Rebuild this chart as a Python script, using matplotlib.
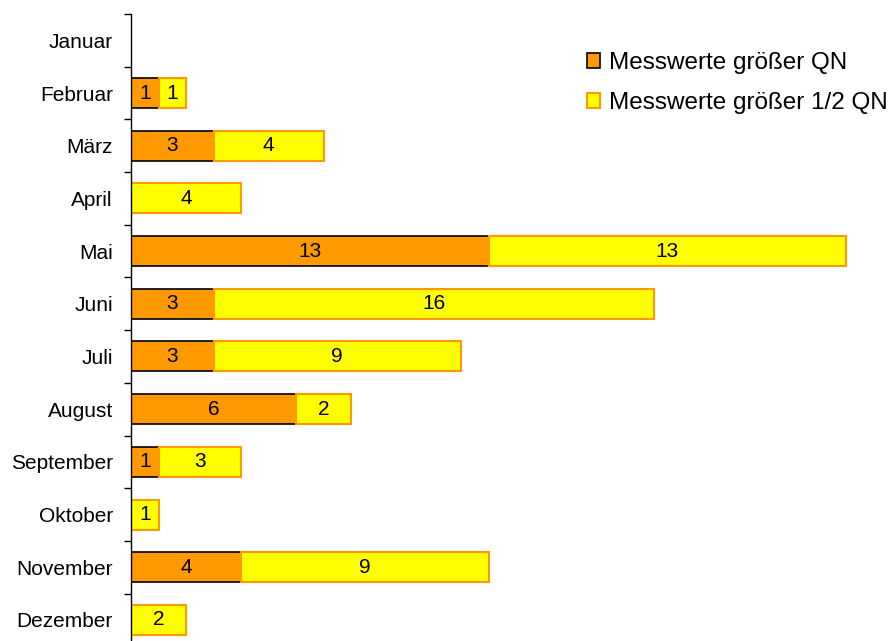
import matplotlib.pyplot as plt
from matplotlib.patches import Patch
import numpy as np

plt.rcParams['font.family'] = ['Liberation Sans', 'DejaVu Sans']

months = ["Januar", "Februar", "März", "April", "Mai", "Juni", "Juli",
          "August", "September", "Oktober", "November", "Dezember"]
above_qn = [0, 1, 3, 0, 13, 3, 3, 6, 1, 0, 4, 0]
above_half_qn = [0, 1, 4, 4, 13, 16, 9, 2, 3, 1, 9, 2]

ORANGE = "#FF9900"
YELLOW = "#FFFF00"

fig = plt.figure(figsize=(8.92, 6.41), dpi=100)
ax = fig.add_axes([131 / 892, 0, 1 - 131 / 892, 1 - 14 / 641])

y = np.arange(len(months))
a = np.array(above_qn)
b = np.array(above_half_qn)
h = 0.57

for i in y:
    if a[i] > 0:
        ax.barh(i, a[i], height=h, color=ORANGE, edgecolor="black", linewidth=1.2)
        ax.text(a[i] / 2, i, str(a[i]), ha="center", va="center", fontsize=15)
    if b[i] > 0:
        ax.barh(i, b[i], left=a[i], height=h, color=YELLOW, edgecolor=ORANGE, linewidth=1.5)
        ax.text(a[i] + b[i] / 2, i, str(b[i]), ha="center", va="center", fontsize=15)

ax.set_xlim(0, (892 - 131) / 27.5)
ax.set_ylim(11.4, -0.5)

ax.set_yticks(y)
ax.set_yticklabels(months, fontsize=15)
ax.tick_params(axis="y", which="major", length=0, pad=13)
ax.set_yticks(np.arange(-0.5, 11.5, 1.0), minor=True)
ax.tick_params(axis="y", which="minor", length=5, width=1, direction="out")
ax.set_xticks([])
for side in ["top", "right", "bottom"]:
    ax.spines[side].set_visible(False)
ax.spines["left"].set_linewidth(1)

handles = [Patch(facecolor=ORANGE, edgecolor="black", linewidth=1.2),
           Patch(facecolor=YELLOW, edgecolor=ORANGE, linewidth=1.5)]
fig.legend(handles, ["Messwerte größer QN", "Messwerte größer 1/2 QN"],
           loc="upper left", bbox_to_anchor=(587 / 892, 1 - 52 / 641),
           frameon=False, fontsize=17.5, handlelength=0.55, handleheight=0.55,
           handletextpad=0.35, labelspacing=0.75, borderpad=0, borderaxespad=0)

fig.savefig("out.png", dpi=100)
